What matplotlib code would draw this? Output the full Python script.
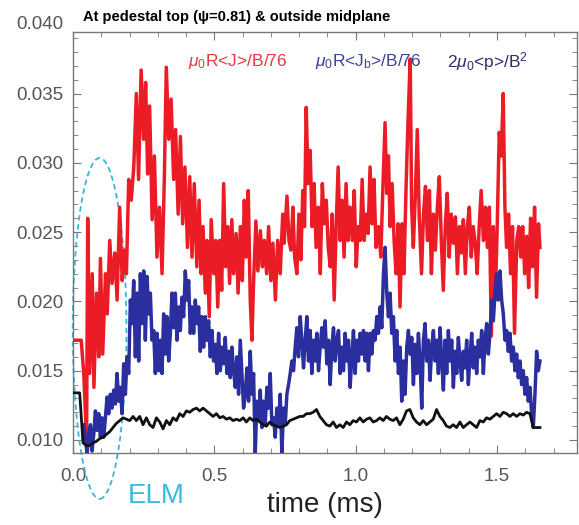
import numpy as np
import matplotlib.pyplot as plt
from matplotlib.patches import Ellipse
from matplotlib.ticker import MultipleLocator, FormatStrFormatter

plt.rcParams['font.family'] = ['Liberation Sans', 'DejaVu Sans']
plt.rcParams['mathtext.fontset'] = 'custom'
plt.rcParams['mathtext.rm'] = 'Liberation Sans'
plt.rcParams['mathtext.it'] = 'Liberation Sans:italic'

# values, in units of 1e-3
scale = 1e-3

# mu0 R <J> / B / 76  (red)
red_t = [0.000, 0.029, 0.038, 0.048, 0.052, 0.059, 0.068, 0.074, 0.083, 0.091, 0.097, 0.105,
         0.115, 0.121, 0.130, 0.138, 0.148, 0.156, 0.165, 0.174, 0.182, 0.189, 0.197,
         0.206, 0.215, 0.224, 0.232, 0.241, 0.250, 0.257, 0.264, 0.271, 0.280,
         0.288, 0.297, 0.306, 0.315, 0.323, 0.330, 0.339, 0.347, 0.356, 0.363,
         0.372, 0.380, 0.388, 0.396, 0.405, 0.413, 0.421, 0.429, 0.438, 0.446,
         0.453, 0.460, 0.468, 0.474, 0.482, 0.489, 0.498, 0.505, 0.512, 0.519,
         0.526, 0.533, 0.540, 0.547, 0.554, 0.562, 0.568, 0.577, 0.584, 0.592,
         0.599, 0.606, 0.613, 0.620,
         0.627, 0.633, 0.639, 0.647, 0.654, 0.663, 0.670, 0.677, 0.685, 0.692,
         0.700, 0.707, 0.716, 0.724, 0.733, 0.742, 0.747, 0.757, 0.764, 0.771,
         0.778, 0.784, 0.792, 0.799, 0.806, 0.813, 0.819, 0.825, 0.832, 0.839,
         0.846, 0.853, 0.860, 0.868, 0.875, 0.882, 0.889, 0.896, 0.903, 0.910,
         0.917, 0.924, 0.931, 0.938, 0.945, 0.952, 0.959, 0.966, 0.973, 0.980,
         0.988, 0.995, 1.002, 1.009, 1.016, 1.023, 1.030, 1.037, 1.044, 1.051,
         1.058, 1.065, 1.072, 1.081, 1.089, 1.096, 1.104, 1.110, 1.116, 1.122,
         1.129, 1.136, 1.143, 1.150, 1.157, 1.164, 1.171, 1.178, 1.185, 1.193,
         1.198, 1.204, 1.211, 1.218, 1.225, 1.233, 1.240, 1.247, 1.254, 1.261,
         1.268, 1.275, 1.282, 1.289, 1.296, 1.303, 1.310, 1.317, 1.324, 1.331,
         1.338, 1.346, 1.353, 1.360, 1.367, 1.374, 1.381, 1.388, 1.395, 1.402,
         1.409, 1.416, 1.423, 1.430, 1.437, 1.444, 1.452, 1.459, 1.466, 1.473,
         1.480, 1.487, 1.494, 1.501, 1.508, 1.515, 1.522, 1.528, 1.534, 1.541,
         1.548, 1.555, 1.562, 1.570, 1.577, 1.584, 1.591, 1.598, 1.605, 1.612,
         1.619, 1.626, 1.633, 1.640, 1.647, 1.652]
red_v = [17.2, 17.2, 14.8, 10.0, 26.0, 14.8, 22.0, 13.8, 20.6, 16.0, 23.1, 16.2,
         22.0, 19.1, 24.4, 21.3, 23.5, 20.1, 26.8, 21.5, 23.7, 22.0, 28.8,
         27.3, 29.7, 35.0, 28.8, 36.7, 31.7, 35.8, 29.2, 34.1, 25.9,
         30.5, 23.2, 26.8, 22.0, 28.8, 36.9, 31.7, 34.6, 28.8, 32.4,
         26.3, 31.9, 25.6, 29.7, 23.9, 29.0, 23.2, 28.5, 22.5, 27.3,
         22.0, 25.4, 20.6, 24.4, 18.9, 25.9, 22.0, 24.4, 19.6, 24.4,
         20.8, 28.5, 22.5, 25.4, 21.3, 25.9, 22.0, 24.9, 20.6, 25.4,
         21.5, 27.3, 23.2, 28.0,
         20.1, 17.2, 21.5, 25.8, 22.2, 25.1, 22.5, 24.4, 22.0, 25.4,
         21.5, 24.2, 20.1, 24.4, 22.0, 26.3, 24.2, 27.6, 24.4, 23.7,
         26.8, 23.2, 22.0, 26.3, 23.0, 28.0, 25.4, 34.0, 28.5, 30.9,
         25.4, 28.5, 23.9, 26.8, 22.0, 28.5, 25.6, 27.3, 23.9, 22.5,
         26.3, 20.1, 25.4, 29.7, 24.4, 27.3, 23.2, 28.5, 24.4, 26.8,
         24.4, 28.0, 22.5, 25.4, 24.4, 28.8, 24.4, 26.3, 24.9, 29.7,
         25.6, 28.8, 23.9, 25.4, 23.2, 28.0, 32.9, 27.8, 30.5, 25.4,
         28.5, 24.4, 22.0, 25.6, 19.6, 25.6, 22.0, 28.0, 32.9, 37.5,
         26.8, 23.9, 27.6, 32.4, 26.1, 22.0, 26.3, 28.3, 24.4, 28.0,
         22.0, 26.3, 23.7, 26.8, 29.0, 24.4, 20.8, 25.4, 27.8, 23.2,
         26.3, 24.2, 26.1, 22.0, 25.4, 23.5, 25.9, 22.0, 25.4, 26.8,
         23.2, 25.4, 24.2, 22.0, 25.4, 28.0, 24.4, 26.8, 23.9, 26.8,
         17.5, 25.4, 20.1, 25.6, 32.2, 30.5, 35.0, 26.8, 23.9, 26.3,
         22.0, 25.4, 17.7, 24.4, 25.4, 23.2, 25.4, 22.0, 24.7, 21.0,
         26.0, 22.5, 26.8, 20.3, 25.6, 23.9]

# mu0 R <Jb> / B / 76  (blue), evenly sampled from 0.038 to 1.652 ms
blue_v = [11.1, 10.1, 9.0, 10.4, 11.1, 9.2, 10.4, 12.1, 10.7, 11.9, 10.2, 11.6, 10.2, 11.6,
          13.1, 11.9, 13.3, 12.3, 13.6, 12.6, 14.8, 12.8, 13.8, 11.9, 15.5, 13.3, 16.0, 14.8,
          20.1, 18.4, 21.5, 16.0, 20.6, 15.7, 22.0, 18.4, 22.2, 17.2, 21.8, 19.1, 20.6, 17.2,
          17.9, 14.8, 17.7, 15.0, 17.2, 14.8, 19.1, 16.2, 18.9, 15.7, 17.7, 20.6, 18.1, 20.6,
          17.2, 19.6, 17.9, 20.3, 18.9, 22.2, 20.1, 21.5, 17.7, 19.6, 17.7, 20.1, 18.4, 19.6,
          16.4, 18.9, 16.7, 18.9, 17.2, 18.6, 16.0, 17.9, 15.7, 16.9, 14.8, 17.7, 15.0, 16.7,
          15.5, 17.4, 14.8, 16.4, 14.5, 16.7, 15.0, 13.8, 16.0, 13.3, 17.2, 14.8, 12.3, 13.3,
          15.2, 12.8, 16.4, 13.3, 14.8, 9.0, 12.8, 11.4, 13.6, 10.9, 12.8, 11.1, 13.8, 12.3,
          14.8, 11.1, 11.6, 10.2, 12.3, 11.1, 13.3, 9.0, 12.3, 11.1, 13.3, 14.0, 14.8, 15.7,
          15.0, 16.7, 18.1, 16.0, 18.9, 17.2, 15.2, 17.2, 18.9, 15.7, 17.9, 14.8, 17.2, 15.7,
          17.7, 15.0, 16.7, 18.1, 16.7, 18.6, 15.5, 17.2, 14.0, 16.7, 18.1, 15.7, 17.2, 17.9,
          14.8, 16.7, 15.0, 17.7, 15.7, 17.2, 13.8, 16.0, 17.9, 14.8, 17.2, 15.7, 17.7, 16.2,
          17.9, 15.7, 17.7, 15.0, 17.7, 16.2, 17.9, 17.2, 18.9, 17.7, 19.6, 18.1, 22.0, 23.9,
          20.6, 18.9, 20.6, 17.7, 18.9, 15.7, 17.9, 14.8, 16.7, 12.8, 15.7, 13.3, 16.7, 17.9,
          16.2, 17.4, 14.0, 16.9, 14.8, 17.7, 15.7, 12.3, 17.2, 18.4, 15.7, 17.2, 14.3, 16.7,
          17.9, 15.7, 17.2, 14.8, 18.1, 15.7, 13.6, 17.2, 14.8, 17.9, 15.7, 17.2, 13.8, 16.4,
          14.8, 17.4, 15.7, 14.3, 16.4, 15.2, 17.2, 14.0, 16.0, 17.7, 15.2, 16.7, 14.8, 17.2,
          16.0, 17.9, 14.8, 17.2, 18.4, 16.2, 17.7, 20.1, 18.6, 20.6, 22.0, 20.1, 22.2, 20.1,
          19.1, 17.2, 17.9, 16.4, 17.7, 15.7, 16.7, 15.0, 16.2, 14.5, 15.7, 14.0, 15.0, 13.3,
          14.5, 12.8, 13.8, 11.9, 10.9, 13.3, 16.4, 15.0, 15.7]
blue_span = (0.038, 1.652)

# 2 mu0 <p> / B^2  (black), evenly sampled from 0 to 1.652 ms
black_v = [13.4, 13.4, 13.4, 9.8, 9.6, 9.6, 9.8, 9.9, 10.1, 10.2, 10.4, 10.6, 10.9, 11.2,
           11.4, 11.6, 11.5, 11.4, 11.7, 11.4, 11.7, 11.1, 11.6, 11.1, 10.9, 11.6, 11.3, 10.8,
           11.4, 11.1, 11.6, 11.4, 11.9, 11.7, 12.1, 12.0, 12.2, 12.3, 12.1, 12.3, 12.1, 11.9,
           11.7, 11.9, 11.6, 11.7, 11.5, 11.6, 11.4, 11.5, 11.4, 11.6, 11.3, 11.6, 11.4, 11.5,
           11.3, 11.1, 11.0, 11.3, 11.1, 11.0, 10.9, 11.0, 11.1, 11.4, 11.5, 11.6, 11.7, 11.7,
           11.9, 11.9, 12.0, 12.2, 11.7, 11.4, 11.1, 11.0, 11.3, 10.9, 11.1, 10.9, 11.3, 11.1,
           11.4, 11.3, 11.6, 11.3, 11.5, 11.6, 11.3, 11.4, 11.6, 11.4, 11.7, 11.5, 11.4, 11.6,
           11.1, 11.5, 12.1, 12.2, 11.6, 11.3, 11.1, 11.4, 11.1, 11.3, 11.5, 12.2, 11.7, 11.4,
           11.0, 10.9, 11.1, 10.9, 11.3, 10.9, 11.1, 11.3, 11.1, 10.9, 11.4, 11.3, 11.6, 11.5,
           11.7, 11.9, 11.7, 12.0, 11.9, 11.7, 11.9, 11.7, 11.9, 11.8, 12.0, 11.9, 10.9, 10.9,
           10.9]
black_span = (0.0, 1.652)

labels = [r'$\mu_0$R<J>/B/76', r'$\mu_0$R<J$_\mathrm{b}$>/B/76', r'2$\mu_0$<p>/B$^2$']
colors = ['#ec1c26', '#2a2e9e', '#111111']
label_colors = ['#e4383f', '#3b4399', '#2c2f6e']

red_t = np.array(red_t)
red_v = np.array(red_v) * scale
blue_v = np.array(blue_v) * scale
blue_t = np.linspace(blue_span[0], blue_span[1], len(blue_v))
black_v = np.array(black_v) * scale
black_t = np.linspace(black_span[0], black_span[1], len(black_v))

fig = plt.figure(figsize=(5.79, 5.25), dpi=100)
ax = fig.add_axes([0.1261, 0.1371, 0.8704, 0.8019])

ax.plot(red_t, red_v, color=colors[0], lw=2.5, zorder=3)
ax.plot(blue_t, blue_v, color=colors[1], lw=2.5, zorder=4)
ax.plot(black_t, black_v, color=colors[2], lw=2.0, zorder=5)

# dashed ELM ellipse
elm = Ellipse((0.094, 0.01805), 0.19, 0.0246, fill=False, ls=(0, (3, 2)), lw=1.3,
              ec='#3ab4e0', clip_on=False, zorder=2)
ax.add_patch(elm)

ax.set_xlim(0, 1.783)
ax.set_ylim(0.00906, 0.03944)
ax.xaxis.set_major_locator(MultipleLocator(0.5))
ax.xaxis.set_minor_locator(MultipleLocator(0.1))
ax.yaxis.set_major_locator(MultipleLocator(0.005))
ax.yaxis.set_minor_locator(MultipleLocator(0.001))
ax.xaxis.set_major_formatter(FormatStrFormatter('%.1f'))
ax.yaxis.set_major_formatter(FormatStrFormatter('%.3f'))
ax.tick_params(which='both', direction='in', top=True, right=True, color='#777777',
               labelcolor='#555555', labelsize=13.5)
ax.tick_params(which='major', length=6)
ax.tick_params(which='minor', length=3.5)
ax.tick_params(axis='y', pad=7)
ax.tick_params(axis='x', pad=11)
for s in ax.spines.values():
    s.set_color('#777777')
    s.set_linewidth(1.0)

ax.set_xlabel('time (ms)', fontsize=20, color='#222222')
ax.xaxis.set_label_coords(0.5, -0.093)

# top tick label sits just above the cropped frame
fig.text(0.1088, 0.954, '0.040', ha='right', va='center', fontsize=13.5, color='#555555')

fig.text(83 / 579, 1 - 21 / 525, 'At pedestal top (\u03c8=0.81) & outside midplane',
         fontsize=10.5, fontweight='bold', va='baseline',
         family=['Liberation Sans Narrow', 'Liberation Sans', 'DejaVu Sans'])

for x, lab, c in zip([0.3247, 0.544, 0.772], labels, label_colors):
    fig.text(x, 0.882, lab, color=c, fontsize=12.5, va='center')

fig.text(0.221, 0.042, 'ELM', color='#3cb8e0', fontsize=20, va='baseline')

fig.savefig('out.png', dpi=100)
